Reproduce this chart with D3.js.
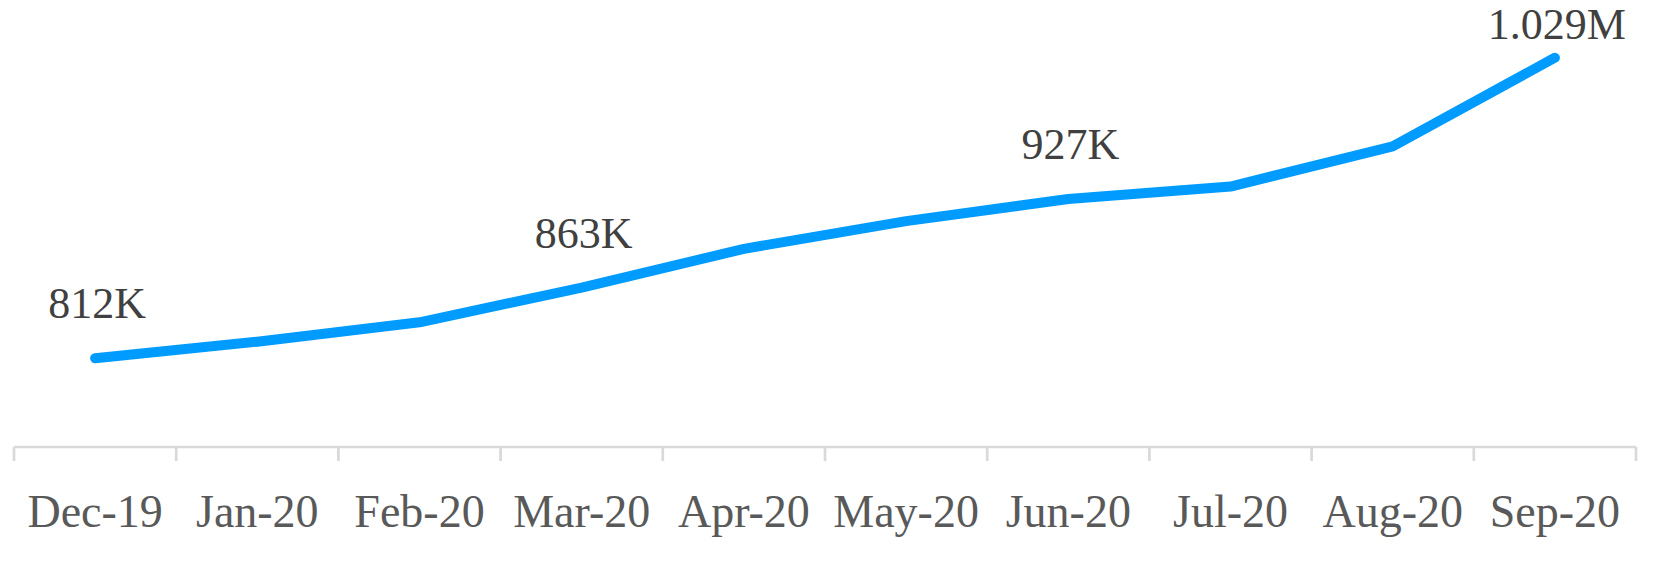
<!DOCTYPE html>
<html>
<head>
<meta charset="utf-8">
<script src="https://cdn.jsdelivr.net/npm/d3@7"></script>
<style>
  html, body { margin: 0; padding: 0; background: #fff; }
  svg { display: block; }
</style>
</head>
<body>
<svg id="chart" width="1655" height="562"></svg>
<script>
// ── Data ──────────────────────────────────────────────────────────────────
const months = ["Dec-19", "Jan-20", "Feb-20", "Mar-20", "Apr-20", "May-20", "Jun-20", "Jul-20", "Aug-20", "Sep-20"];
const users = [812, 824, 838, 863, 891, 911, 927, 936, 965, 1029]; // thousands
const labelled = ["Dec-19", "Mar-20", "Jun-20", "Sep-20"];

function fmt(v) {
  return v >= 1000 ? (v / 1000).toFixed(3) + "M" : v + "K";
}

const svg = d3.select("#chart");
const FONT = "'Liberation Serif', 'Times New Roman', serif";

// ── Scales ────────────────────────────────────────────────────────────────
const x = d3.scaleBand().domain(months).range([14, 1636]);
const y = d3.scaleLinear().domain([700, 1100]).range([513.4, -40.6]);
const axisY = 447;

// ── Axis ──────────────────────────────────────────────────────────────────
const axisG = svg.append("g").attr("transform", `translate(0,${axisY})`);
axisG.call(d3.axisBottom(x).tickSize(0));
axisG.select(".domain").remove();
axisG.selectAll("text")
  .attr("font-family", FONT)
  .attr("font-size", 46)
  .attr("fill", "#595959")
  .attr("dy", 0)
  .attr("y", 80);

const edges = months.map((m) => x(m)).concat([x.range()[1]]);
axisG.append("line")
  .attr("x1", x.range()[0]).attr("x2", x.range()[1])
  .attr("stroke", "#d9d9d9").attr("stroke-width", 2.7);
axisG.selectAll(".edge")
  .data(edges)
  .join("line")
  .attr("class", "edge")
  .attr("x1", (d) => d).attr("x2", (d) => d)
  .attr("y1", 0).attr("y2", 14)
  .attr("stroke", "#d9d9d9").attr("stroke-width", 2.7);

// ── Line ──────────────────────────────────────────────────────────────────
const pts = months.map((m, i) => ({ m, v: users[i] }));
const cx = (d) => x(d.m) + x.bandwidth() / 2;

svg.append("path")
  .datum(pts)
  .attr("fill", "none")
  .attr("stroke", "#009bff")
  .attr("stroke-width", 10)
  .attr("stroke-linecap", "round")
  .attr("stroke-linejoin", "round")
  .attr("d", d3.line().x(cx).y((d) => y(d.v)));

// ── Data labels ───────────────────────────────────────────────────────────
svg.selectAll(".lbl")
  .data(pts.filter((d) => labelled.includes(d.m)))
  .join("text")
  .attr("class", "lbl")
  .attr("x", (d) => cx(d) + 2)
  .attr("y", (d) => Math.max(y(d.v) - 40, 39))
  .attr("text-anchor", "middle")
  .attr("font-family", FONT)
  .attr("font-size", 44)
  .attr("fill", "#404040")
  .text((d) => fmt(d.v));
</script>
</body>
</html>
